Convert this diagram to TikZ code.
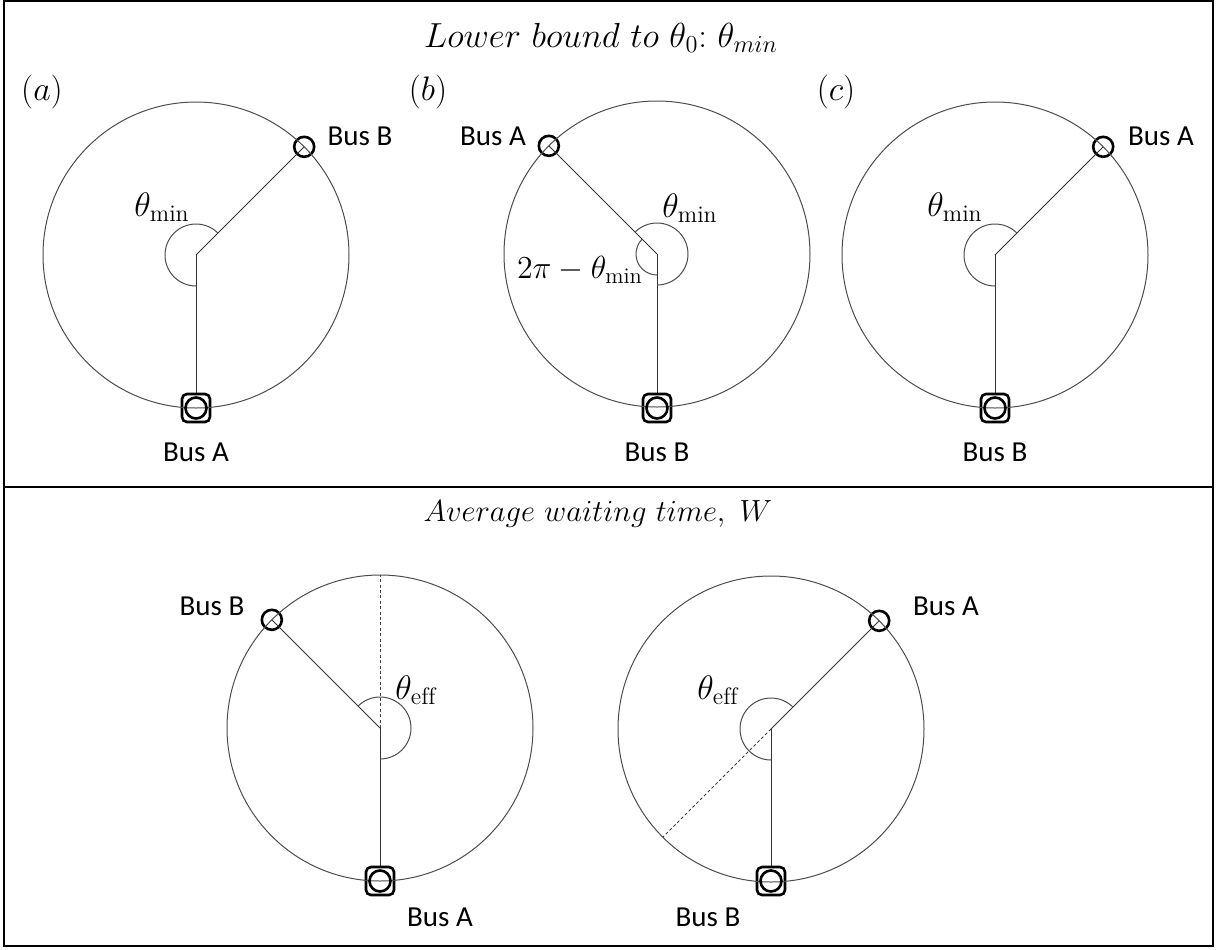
\RequirePackage{fix-cm}
\documentclass[tikz,border=0pt]{standalone}
\usepackage{fontspec}
\newfontfamily\busfont{Carlito}
\tikzset{
  ring/.style={draw=black!70, line width=0.5pt},
  spoke/.style={draw=black!80, line width=0.5pt},
  angarc/.style={draw=black!70, line width=0.5pt},
  dotline/.style={draw=black!75, line width=0.5pt, dash pattern=on 1.5pt off 1.2pt},
  bus/.style={circle, draw, line width=1.3pt, minimum size=10pt, inner sep=0pt},
  stopbox/.style={rectangle, rounded corners=2.5pt, draw, line width=1.3pt, fill=white, minimum size=14pt, inner sep=0pt},
  stopring/.style={circle, draw, line width=1.3pt, minimum size=10.5pt, inner sep=0pt},
  buslabel/.style={font=\busfont\fontsize{14.5}{17}\selectfont, inner sep=0pt},
  mathlabel/.style={font=\fontsize{17}{20}\selectfont, inner sep=0pt},
  panellabel/.style={font=\fontsize{17}{20}\selectfont, inner sep=0pt},
  frame/.style={draw=black, line width=1pt}
}
\begin{document}
\begin{tikzpicture}[x=0.5pt, y=0.5pt]
\useasboundingbox (0,0) rectangle (1217,-949);
% frame
\draw[frame] (4,-1) rectangle (1213,-946);
\draw[frame] (4,-487) -- (1213,-487);
% titles
\node[font=\fontsize{17.4}{20}\selectfont, inner sep=0pt] (t1) at (601,-38) {$Lower\ bound\ to\ \theta_0{:}\ \theta_{min}$};
\node[font=\fontsize{15.3}{18}\selectfont, inner sep=0pt] (t2) at (598,-514) {$Average\ waiting\ time,\ W$};
% panel labels
\node[panellabel] (pa) at (42,-92) {$(a)$};
\node[panellabel] (pb) at (428,-92) {$(b)$};
\node[panellabel] (pc) at (836,-92) {$(c)$};

% ---------- (a)
\coordinate (oa) at (196,-255);
\draw[spoke] (oa) -- ++(0,-153);
\path (oa) ++(45:153) node[bus] (aB) {};
\draw[spoke] (oa) -- (aB.center);
\draw[angarc] (oa) ++(45:31) arc[start angle=45, end angle=270, radius=31];
\node[stopbox] (aA) at (196,-408) {};
\draw[ring] (oa) circle[radius=153];
\node[stopring] (aAr) at (aA) {};
\node[buslabel] (laB) at (360,-136) {Bus B};
\node[buslabel] (laA) at (196,-452) {Bus A};
\node[mathlabel] (tha) at (162,-207) {$\theta_{\mathrm{min}}$};

% ---------- (b)
\coordinate (ob) at (657,-254);
\draw[spoke] (ob) -- ++(0,-154);
\path (ob) ++(135:153) node[bus] (bA) {};
\draw[spoke] (ob) -- (bA.center);
\draw[angarc] (ob) ++(-90:31) arc[start angle=-90, end angle=135, radius=31];
\draw[angarc] (ob) ++(135:21) arc[start angle=135, end angle=270, radius=21];
\node[stopbox] (bB) at (657,-408) {};
\draw[ring] (ob) circle[radius=153];
\node[stopring] (bBr) at (bB) {};
\node[buslabel] (lbA) at (493,-136) {Bus A};
\node[buslabel] (lbB) at (657,-452) {Bus B};
\node[mathlabel] (thb) at (690,-208) {$\theta_{\mathrm{min}}$};
\node[font=\fontsize{16}{19}\selectfont, inner sep=0pt] (thb2) at (580,-270) {$2\pi-\theta_{\mathrm{min}}$};

% ---------- (c)
\coordinate (oc) at (995,-255);
\draw[spoke] (oc) -- ++(0,-153);
\path (oc) ++(45:153) node[bus] (cA) {};
\draw[spoke] (oc) -- (cA.center);
\draw[angarc] (oc) ++(45:31) arc[start angle=45, end angle=270, radius=31];
\node[stopbox] (cB) at (995,-408) {};
\draw[ring] (oc) circle[radius=153];
\node[stopring] (cBr) at (cB) {};
\node[buslabel] (lcA) at (1161,-136) {Bus A};
\node[buslabel] (lcB) at (995,-452) {Bus B};
\node[mathlabel] (thc) at (955,-207) {$\theta_{\mathrm{min}}$};

% ---------- bottom left
\coordinate (od) at (380,-728);
\draw[spoke] (od) -- ++(0,-153);
\path (od) ++(135:153) node[bus] (dB) {};
\draw[spoke] (od) -- (dB.center);
\draw[dotline] (od) -- ++(90:153);
\draw[angarc] (od) ++(-90:31) arc[start angle=-90, end angle=135, radius=31];
\node[stopbox] (dA) at (380,-881) {};
\draw[ring] (od) circle[radius=153];
\node[stopring] (dAr) at (dA) {};
\node[buslabel] (ldB) at (212,-606) {Bus B};
\node[buslabel] (ldA) at (440,-917) {Bus A};
\node[mathlabel] (thd) at (416,-690) {$\theta_{\mathrm{eff}}$};

% ---------- bottom right
\coordinate (oe) at (771,-729);
\draw[spoke] (oe) -- ++(0,-152);
\path (oe) ++(45:153) node[bus] (eA) {};
\draw[spoke] (oe) -- (eA.center);
\draw[dotline] (oe) -- ++(225:153);
\draw[angarc] (oe) ++(45:31) arc[start angle=45, end angle=270, radius=31];
\node[stopbox] (eB) at (771,-881) {};
\draw[ring] (oe) circle[radius=153];
\node[stopring] (eBr) at (eB) {};
\node[buslabel] (leA) at (946,-606) {Bus A};
\node[buslabel] (leB) at (708,-917) {Bus B};
\node[mathlabel] (the) at (718,-690) {$\theta_{\mathrm{eff}}$};
\end{tikzpicture}
\end{document}
